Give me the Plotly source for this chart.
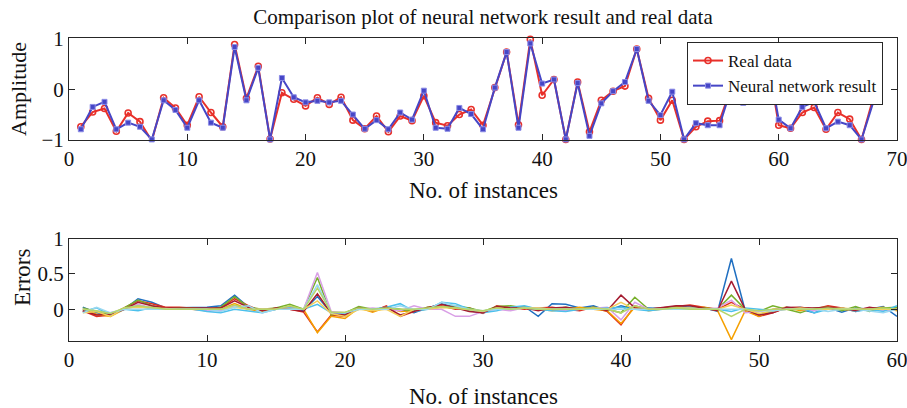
import plotly.graph_objects as go

# ---- Amplitude comparison (instances 1..68) ----
instances = list(range(1, 69))
real_data = [
    -0.74, -0.45, -0.38, -0.83, -0.47, -0.64, -1.02, -0.17, -0.37, -0.71,
    -0.15, -0.46, -0.74, 0.88, -0.18, 0.45, -0.98, -0.07, -0.20, -0.33,
    -0.17, -0.30, -0.16, -0.61, -0.78, -0.53, -0.84, -0.53, -0.62, -0.13,
    -0.66, -0.72, -0.50, -0.40, -0.71, 0.03, 0.73, -0.70, 0.98, -0.12,
    0.19, -0.99, 0.14, -0.84, -0.22, -0.04, 0.06, 0.79, -0.18, -0.61,
    -0.22, -0.99, -0.74, -0.63, -0.62, 0.03, -0.20, -0.14, 0.70, -0.71,
    -0.77, -0.46, -0.36, -0.79, -0.46, -0.59, -0.99, -0.17,
]
nn_result = [
    -0.79, -0.35, -0.25, -0.79, -0.66, -0.74, -0.99, -0.22, -0.41, -0.76,
    -0.22, -0.66, -0.76, 0.83, -0.22, 0.42, -0.99, 0.22, -0.16, -0.26,
    -0.23, -0.26, -0.23, -0.50, -0.78, -0.61, -0.79, -0.46, -0.60, -0.03,
    -0.76, -0.78, -0.37, -0.49, -0.79, 0.03, 0.73, -0.76, 0.90, 0.11,
    0.19, -0.99, 0.12, -0.92, -0.28, -0.04, 0.14, 0.79, -0.23, -0.51,
    -0.05, -0.99, -0.67, -0.71, -0.71, 0.03, -0.27, -0.15, 0.70, -0.60,
    -0.77, -0.35, -0.25, -0.77, -0.64, -0.71, -0.99, -0.25,
]

# ---- Error curves (instances 1..60) ----
err_x = list(range(1, 61))
err_1 = [0.03, -0.05, -0.08, 0.00, 0.15, 0.10, 0.02, 0.02, 0.03, 0.03, 0.05, 0.20, 0.03, -0.02, 0.00, 0.02, -0.02, 0.18, -0.05, -0.08,
         0.02, -0.02, 0.04, 0.00, -0.05, 0.02, 0.08, 0.03, -0.02, -0.05, 0.03, 0.02, 0.04, -0.10, 0.08, 0.07, 0.02, 0.05, -0.02, 0.05,
         0.00, 0.02, 0.01, 0.03, 0.05, 0.02, -0.03, 0.72, -0.02, -0.08, -0.02, 0.03, 0.00, -0.05, 0.02, -0.04, 0.02, 0.00, 0.04, -0.10]
err_2 = [-0.02, -0.10, -0.08, 0.02, 0.12, 0.08, 0.03, 0.03, 0.02, 0.00, 0.02, 0.15, 0.05, -0.03, 0.02, 0.00, -0.04, -0.32, -0.08, -0.10,
         0.03, -0.03, 0.05, -0.10, -0.03, 0.03, 0.05, 0.00, 0.02, -0.06, 0.05, 0.03, 0.00, 0.02, 0.03, 0.00, -0.02, 0.03, -0.03, -0.22,
         0.05, 0.00, 0.02, 0.05, 0.06, 0.03, 0.00, 0.10, 0.00, -0.10, -0.05, 0.02, 0.03, 0.00, 0.05, 0.02, -0.03, 0.02, 0.00, 0.02]
err_3 = [0.00, -0.07, -0.10, 0.00, 0.05, 0.03, 0.00, 0.02, 0.00, -0.02, 0.00, 0.08, 0.00, -0.03, 0.00, 0.04, 0.00, -0.33, -0.10, -0.13,
         0.02, -0.04, 0.03, -0.03, -0.02, 0.00, 0.03, 0.02, 0.00, -0.04, 0.03, 0.00, 0.04, 0.00, -0.02, 0.00, 0.03, 0.00, -0.02, -0.20,
         0.03, -0.02, 0.00, 0.03, 0.02, 0.03, -0.02, -0.43, -0.02, -0.10, 0.00, 0.03, -0.02, 0.00, 0.03, 0.00, -0.02, 0.00, 0.03, -0.02]
err_4 = [0.02, -0.03, -0.08, 0.02, 0.13, 0.05, 0.00, 0.02, 0.02, 0.00, 0.03, 0.18, 0.03, 0.00, 0.02, 0.07, 0.00, 0.45, -0.08, -0.05,
         0.04, 0.00, 0.02, 0.00, -0.02, 0.03, 0.03, 0.05, 0.02, -0.03, 0.04, 0.05, 0.02, 0.02, 0.00, 0.03, 0.00, 0.03, 0.00, -0.05,
         0.17, 0.00, 0.02, 0.03, 0.00, 0.02, 0.00, 0.20, 0.00, -0.03, 0.05, 0.00, -0.05, 0.02, 0.03, -0.02, 0.04, -0.03, 0.02, 0.03]
err_5 = [0.00, -0.03, -0.05, 0.00, 0.07, 0.02, 0.00, 0.00, 0.00, -0.02, -0.02, 0.05, 0.00, 0.00, 0.00, 0.02, 0.00, 0.52, -0.03, -0.05,
         0.00, 0.02, 0.00, -0.02, 0.05, 0.00, 0.00, -0.10, -0.10, -0.03, 0.00, -0.02, 0.02, 0.02, 0.00, -0.02, 0.00, 0.02, 0.03, -0.15,
         0.10, 0.00, 0.00, 0.02, 0.00, 0.00, 0.02, 0.13, -0.05, -0.03, 0.00, 0.02, 0.00, -0.02, 0.02, 0.00, 0.00, 0.02, -0.02, 0.00]
err_6 = [-0.03, 0.02, -0.08, 0.00, -0.02, 0.02, 0.00, 0.00, 0.00, -0.03, -0.05, 0.00, -0.02, -0.05, 0.00, 0.02, 0.00, 0.07, -0.05, -0.07,
         0.00, 0.00, 0.03, 0.08, -0.03, 0.00, 0.10, 0.08, 0.00, -0.05, -0.02, 0.03, 0.05, 0.00, -0.02, -0.03, 0.00, 0.00, 0.02, 0.03,
         0.00, -0.02, 0.00, 0.02, 0.03, 0.00, 0.00, -0.03, 0.02, 0.00, -0.02, 0.00, 0.03, -0.05, 0.00, 0.02, -0.03, 0.00, -0.03, 0.05]
err_7 = [-0.02, -0.08, -0.07, 0.00, 0.10, 0.05, 0.02, 0.02, 0.02, 0.02, 0.02, 0.12, 0.03, -0.02, 0.02, 0.00, -0.03, 0.22, -0.06, -0.08,
         0.02, -0.02, 0.03, -0.08, -0.03, 0.02, 0.07, 0.02, -0.03, -0.05, 0.04, 0.02, 0.02, -0.02, 0.02, 0.03, 0.00, 0.02, -0.02, 0.20,
         0.02, 0.00, 0.02, 0.05, 0.05, 0.02, -0.02, 0.40, 0.00, -0.08, -0.05, 0.03, 0.02, 0.02, 0.03, 0.02, -0.02, 0.03, 0.00, 0.00]
err_8 = [-0.05, -0.03, -0.10, 0.02, 0.03, 0.02, 0.00, 0.00, 0.00, 0.00, 0.00, 0.03, 0.00, 0.00, 0.00, 0.00, 0.00, 0.12, -0.06, -0.10,
         0.00, -0.02, 0.00, -0.10, 0.00, 0.00, 0.03, 0.02, 0.00, -0.03, 0.02, 0.00, 0.02, 0.02, 0.00, 0.00, 0.00, 0.02, 0.00, 0.10,
         0.00, 0.00, 0.00, 0.02, 0.02, 0.00, 0.00, 0.06, 0.00, -0.06, -0.02, 0.00, 0.02, 0.00, 0.00, 0.02, 0.00, 0.00, 0.00, 0.00]
err_9 = [-0.05, 0.03, -0.05, 0.00, 0.00, 0.00, 0.00, 0.00, 0.00, 0.00, -0.03, 0.03, 0.05, -0.05, 0.00, 0.00, 0.00, 0.35, -0.05, -0.05,
         0.00, 0.00, 0.00, 0.05, 0.00, 0.00, 0.10, 0.05, 0.00, -0.02, 0.00, 0.00, 0.02, 0.00, 0.00, 0.00, 0.00, 0.00, 0.00, 0.00,
         0.00, 0.00, 0.00, 0.00, 0.00, 0.00, 0.00, 0.00, 0.00, -0.02, -0.02, 0.00, 0.00, 0.00, -0.03, 0.00, 0.00, -0.03, -0.05, 0.00]
err_10 = [0.00, -0.02, -0.06, 0.02, 0.05, 0.02, 0.00, 0.00, 0.00, 0.00, 0.00, 0.06, 0.00, 0.00, 0.00, 0.05, 0.00, 0.30, -0.04, -0.04,
          0.02, 0.00, 0.02, 0.00, 0.00, 0.02, 0.04, 0.02, 0.00, -0.02, 0.02, 0.00, 0.02, 0.00, 0.00, 0.00, 0.00, 0.02, 0.00, -0.05,
          0.05, 0.00, 0.00, 0.02, 0.00, 0.00, 0.00, -0.10, 0.00, -0.02, 0.00, 0.00, 0.00, 0.00, 0.02, 0.00, 0.00, 0.00, 0.02, 0.00]

error_series = [err_1, err_2, err_3, err_4, err_5, err_6, err_7, err_8, err_9, err_10]
error_colors = ["#1f6fc1", "#e0301e", "#f5a000", "#77b02a", "#d9a0e6",
                "#4cc0ec", "#a51c30", "#f2cf5a", "#9ad8f0", "#b5d56a"]

FONT = "Liberation Serif"
AXIS_COLOR = "#262626"
TEXT_COLOR = "#111111"

fig = go.Figure()

fig.add_trace(go.Scatter(
    x=instances, y=real_data, name="Real data", mode="lines+markers",
    line=dict(color="#e8302a", width=2),
    marker=dict(symbol="circle-open", size=6, color="#e8302a", line=dict(width=1.6)),
    xaxis="x", yaxis="y", cliponaxis=False,
))
fig.add_trace(go.Scatter(
    x=instances, y=nn_result, name="Neural network result", mode="lines+markers",
    line=dict(color="#4646c6", width=2),
    marker=dict(symbol="square", size=5, color="#4646c6", line=dict(color="#8c8ce6", width=1)),
    xaxis="x", yaxis="y", cliponaxis=False,
))

for vals, col in zip(error_series, error_colors):
    fig.add_trace(go.Scatter(
        x=err_x, y=vals, mode="lines", showlegend=False,
        line=dict(color=col, width=1.5),
        xaxis="x2", yaxis="y2",
    ))

axis_common = dict(
    showline=True, linecolor=AXIS_COLOR, linewidth=1, mirror="ticks",
    ticks="inside", ticklen=6, tickcolor=AXIS_COLOR, tickwidth=1,
    showgrid=False, zeroline=False, automargin=False,
    ticklabeloverflow="allow",
    tickfont=dict(family=FONT, size=21, color=TEXT_COLOR),
)

fig.update_layout(
    width=907, height=408,
    margin=dict(l=69, r=10, t=0, b=0),
    paper_bgcolor="white", plot_bgcolor="white",
    font=dict(family=FONT, color=TEXT_COLOR),
    title=dict(text="Comparison plot of neural network result and real data",
               x=483 / 907, xanchor="center", y=1 - 17 / 408, yanchor="middle",
               font=dict(family=FONT, size=21, color=TEXT_COLOR)),
    xaxis=dict(domain=[0, 1], range=[0, 70], dtick=10, anchor="y", **axis_common),
    yaxis=dict(domain=[0.657, 0.906], range=[-1, 1], tickvals=[-1, 0, 1], anchor="x", **axis_common),
    xaxis2=dict(domain=[0, 1], range=[0, 60], dtick=10, anchor="y2", **axis_common),
    yaxis2=dict(domain=[0.164, 0.415], range=[-0.45, 1], tickvals=[0, 0.5, 1],
                ticktext=["0", "0.5", "1"], anchor="x2", **axis_common),
    legend=dict(x=(883 - 69) / 828, xanchor="right", y=1 - 42 / 408, yanchor="top",
                bgcolor="white", bordercolor=AXIS_COLOR, borderwidth=1,
                font=dict(family=FONT, size=17, color=TEXT_COLOR),
                tracegroupgap=0, itemwidth=30),
    showlegend=True,
)

# Axis titles (paper x is measured across the plotting area, 69..897 px)
for ypix in (190, 396):
    fig.add_annotation(text="No. of instances", xref="paper", yref="paper",
                       x=0.5, y=1 - ypix / 408, xanchor="center", yanchor="middle",
                       showarrow=False, font=dict(family=FONT, size=23, color=TEXT_COLOR))

fig.add_annotation(text="Amplitude", xref="paper", yref="paper",
                   x=(18 - 69) / 828, y=1 - 89 / 408, xanchor="center", yanchor="middle",
                   textangle=-90, showarrow=False,
                   font=dict(family=FONT, size=22, color=TEXT_COLOR))
fig.add_annotation(text="Errors", xref="paper", yref="paper",
                   x=(22 - 69) / 828, y=1 - 277 / 408, xanchor="center", yanchor="middle",
                   textangle=-90, showarrow=False,
                   font=dict(family=FONT, size=23, color=TEXT_COLOR))

fig.write_html("out.html")
